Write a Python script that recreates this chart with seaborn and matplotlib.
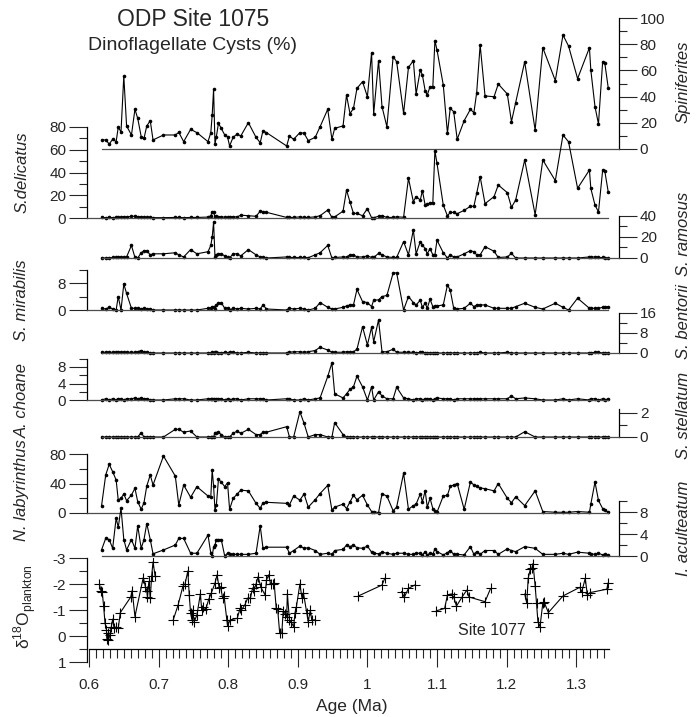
import numpy as np
import pandas as pd
import seaborn as sns
import matplotlib
matplotlib.use('Agg')
from matplotlib import pyplot as plt
from matplotlib.ticker import FixedLocator

# sample ages (Ma), ODP Site 1075
ages = [0.618, 0.624, 0.629, 0.634, 0.639, 0.642, 0.646, 0.650, 0.654, 0.661,
        0.666, 0.670, 0.675, 0.679, 0.683, 0.688, 0.692, 0.707, 0.724, 0.729,
        0.736, 0.746, 0.755, 0.771, 0.775, 0.777, 0.779, 0.781, 0.783, 0.786,
        0.790, 0.795, 0.799, 0.802, 0.807, 0.813, 0.818, 0.829, 0.840, 0.846,
        0.850, 0.855, 0.884, 0.888, 0.894, 0.903, 0.909, 0.915, 0.925, 0.932,
        0.943, 0.949, 0.953, 0.965, 0.970, 0.975, 0.980, 0.985, 0.993, 1.000,
        1.006, 1.009, 1.016, 1.021, 1.028, 1.037, 1.042, 1.052, 1.059, 1.066,
        1.070, 1.076, 1.079, 1.083, 1.086, 1.090, 1.094, 1.097, 1.100, 1.109,
        1.115, 1.119, 1.124, 1.129, 1.139, 1.148, 1.153, 1.157, 1.162, 1.169,
        1.182, 1.188, 1.201, 1.207, 1.213, 1.226, 1.241, 1.252, 1.270, 1.281,
        1.289, 1.302, 1.319, 1.321, 1.327, 1.332, 1.338, 1.341, 1.346]

spiniferites = [6.9, 6.9, 3.8, 7.4, 5.6, 16.5, 13.2, 55.7, 17.6, 10.7,
                30.3, 23.4, 9.4, 8.1, 17.6, 21.6, 6.9, 10.7, 10.7, 12.7,
                5.6, 15.0, 12.5, 5.6, 12.5, 26.0, 45.5, 3.8, 9.4, 19.6,
                15.8, 10.7, 9.4, 2.3, 8.9, 11.5, 9.9, 20.1, 8.9, 4.8,
                14.0, 12.5, 2.3, 9.9, 7.4, 12.5, 12.0, 6.4, 8.9, 17.0,
                30.3, 7.4, 15.8, 17.6, 41.2, 27.0, 31.0, 46.3, 51.4, 39.9,
                73.5, 26.7, 67.4, 32.3, 17.0, 70.5, 66.6, 27.2, 62.3, 67.4,
                42.0, 60.3, 56.5, 44.5, 41.2, 47.6, 47.6, 82.7, 75.6, 48.9,
                12.0, 31.0, 28.5, 7.4, 21.6, 30.3, 27.7, 43.0, 79.4, 40.5,
                39.9, 49.6, 42.0, 20.9, 35.4, 66.6, 14.5, 77.3, 52.2, 87.0,
                78.6, 53.7, 77.3, 60.3, 32.3, 19.1, 66.6, 65.9, 46.8]

delicatus = [0.5, 0.3, 0.5, 0.3, 0.5, 0.8, 0.5, 1.2, 0.8, 1.5,
             1.5, 1.2, 1.0, 0.8, 0.5, 0.5, 0.3, 0.3, 0.5, 0.5,
             0.3, 0.5, 0.5, 0.8, 2.0, 5.5, 5.0, 1.0, 1.5, 1.2,
             1.0, 0.8, 0.5, 0.5, 1.0, 1.0, 2.5, 2.0, 1.5, 6.0,
             5.5, 5.0, 0.5, 0.5, 0.5, 1.0, 0.5, 0.5, 1.0, 2.0,
             7.0, 0.5, 1.0, 6.0, 24.6, 14.0, 4.0, 4.0, 2.0, 8.2,
             0.3, 0.3, 1.5, 2.0, 0.5, 0.5, 1.0, 0.7, 34.9, 14.4,
             18.8, 15.8, 24.0, 11.4, 12.0, 13.5, 13.5, 59.2, 48.0, 11.4,
             1.9, 4.9, 4.9, 3.8, 6.7, 10.3, 10.3, 21.7, 36.3, 12.6,
             18.8, 29.0, 22.3, 9.4, 15.8, 51.0, 2.9, 51.0, 32.8, 73.0,
             67.0, 26.1, 42.2, 26.0, 11.4, 5.3, 42.0, 41.5, 23.0]

ramosus = [0, 0, 0, 0.5, 0.5, 1, 1, 0.5, 1, 12,
           0.5, 0, 5, 7, 7, 3, 4, 4, 5, 3,
           1, 8, 4, 6, 12, 20, 34, 1, 3, 4,
           4, 2, 0.5, 0, 4, 4, 2, 8, 3, 1,
           0.5, 0, 1, 0.5, 0.5, 0.5, 0.5, 0.3, 3, 5,
           12, 0, 0.5, 1, 1, 3, 3, 1, 1, 2,
           0.5, 0.5, 4.4, 3, 1, 0.5, 0.5, 15.6, 3, 26.7,
           4, 15.6, 12.4, 8.9, 4, 9, 3, 3, 17, 5,
           0, 3, 1, 1, 4, 7, 6, 3, 3, 10.8,
           6.4, 0.5, 1, 4.4, 0, 0, 0, 0, 0, 0,
           0, 0, 1, 1, 1, 0.5, 0.5, 0, 0]

mirabilis = [0.5, 0.3, 0.8, 0.3, 0, 4, 0, 7.7, 4.9, 0.5,
             0.5, 0.5, 0.3, 0.5, 0.3, 0.3, 0, 0, 0, 0,
             0, 0, 0, 0.5, 0.5, 1, 1, 0.3, 1.5, 2,
             2.2, 0.5, 0.5, 0, 0.5, 0.3, 0.5, 0.3, 0.5, 0.3,
             1.5, 0.3, 0, 0.5, 0.3, 0.5, 0.3, 0, 0.5, 2.2,
             0.8, 0.3, 0.3, 0.8, 1.2, 1.5, 1.5, 6.1, 2.5, 2.2,
             1, 2.9, 3, 4, 4.3, 11, 11, 0, 4, 2.2,
             1.5, 2.9, 0.8, 2, 0.5, 3.2, 1, 1.2, 1.2, 1.5,
             7.4, 5.9, 0.5, 0.3, 0.5, 2, 1, 1.5, 1.5, 1.5,
             0.5, 0.5, 0.5, 0.5, 1, 2, 0.8, 0.3, 2, 0.8,
             0, 3.5, 0.5, 0.5, 0.5, 0.5, 0.8, 0.8, 1]

bentorii = [0.3, 0.3, 0.3, 0.3, 0.3, 0.3, 0.3, 0.3, 0.3, 0.3,
            0.3, 0.5, 1.0, 0.3, 0.3, 0, 0, 0, 0, 0,
            0, 0, 0, 0, 0, 0.3, 0, 0.3, 0.3, 0,
            0, 0.3, 0, 0.3, 0.3, 0, 0, 0.3, 0, 0,
            0, 0, 0, 0.3, 0.5, 0.5, 0.3, 0.5, 1.0, 2.3,
            1.2, 0.3, 0.3, 0.3, 0.5, 0.3, 0.5, 1.5, 10.5, 3.2,
            10.3, 4.5, 13.2, 0.5, 0.5, 1.5, 0.3, 0.3, 0.3, 0.3,
            0, 0.3, 0.3, 0, 0, 0, 0, 0, 0, 0,
            0, 0, 0, 0, 0, 0, 0, 0, 0.3, 0,
            0, 0, 0.3, 0, 0, 0, 0, 0, 0, 0,
            0, 0, 0, 0, 0.3, 0.3, 0, 0, 0]

choane = [0, 0.3, 0, 0.3, 0, 0.3, 0.3, 0, 0.3, 0.3,
          0.5, 0.3, 0.5, 0.3, 0.3, 0, 0, 0, 0.3, 0.3,
          0.3, 0, 0, 0.3, 0.3, 0.3, 0.3, 0, 0.3, 0.3,
          0.3, 0, 0.3, 0, 0.3, 0.3, 0, 0.3, 0.3, 0.3,
          0.3, 0, 0.3, 0.3, 0, 0, 0.3, 0, 0.3, 0.5,
          5.7, 9.0, 1.5, 0.5, 1.5, 2.6, 3.2, 5.8, 3.2, 0,
          3.2, 0, 2.0, 1.0, 0.3, 0.3, 3.1, 0.5, 0.3, 0,
          0.3, 0.3, 0, 0.3, 0.3, 0.3, 0, 0.3, 0.5, 0.3,
          0.3, 0.3, 0, 0.3, 0.3, 0.3, 0.3, 0.3, 0.3, 0.3,
          0.3, 0.3, 0.3, 1.0, 0.3, 0.5, 0.3, 0, 0, 0.3,
          0, 0.3, 0, 0.3, 0.3, 0, 0.3, 0, 0.3]

stellatum = [0, 0, 0, 0, 0, 0, 0, 0, 0, 0,
             0, 0, 0.36, 0, 0, 0, 0, 0, 0.64, 0.64,
             0.4, 0.5, 0, 0, 0, 0, 0, 0.36, 0.36, 0.4,
             0.2, 0, 0, 0, 0.3, 0.5, 0.3, 0.64, 0.2, 0.2,
             0.4, 0.4, 0.86, 0, 0, 2.1, 1.14, 0, 0.2, 0.2,
             0, 0, 1.2, 0.2, 0, 0, 0, 0, 0, 0,
             0, 0, 0, 0, 0, 0, 0, 0, 0, 0,
             0, 0, 0, 0, 0, 0, 0, 0, 0, 0,
             0, 0, 0, 0, 0, 0, 0, 0, 0, 0,
             0, 0, 0, 0, 0, 0.44, 0, 0, 0, 0,
             0, 0, 0, 0, 0, 0, 0, 0, 0]

labyrinthus = [9.5, 51.5, 66, 56, 44.7, 17.6, 20, 25.8, 16.7, 24.4,
               33.5, 15.4, 5, 14, 36.6, 51.5, 38, 77.3, 50, 10.8,
               38, 21.3, 35.7, 23, 22, 58.3, 36.6, 4, 10.8, 45.7,
               42, 35.7, 41, 5, 19.7, 25.8, 31, 30, 13.1, 6.3,
               14, 14.5, 13.1, 11, 23, 17.5, 25.8, 8, 18, 26.4,
               37.5, 4, 8, 12, 6, 15, 24, 18, 24, 11,
               2, 2, 0.5, 26, 23, 3, 8, 54, 5, 10,
               12, 26, 15, 30, 8, 20, 6, 3, 1, 23,
               24, 36, 38, 40, 5, 42, 38, 36, 34, 33,
               30, 40, 20, 14, 22, 10, 30, 2, 1, 1,
               1, 2, 1, 12, 42, 17, 6, 4, 1]

aculteatum = [1.1, 3.2, 3.0, 1.4, 6.9, 5.2, 8.7, 3.0, 1.1, 3.0,
              1.4, 5.5, 1.4, 3.0, 5.9, 3.0, 0.4, 1.1, 2.0, 3.2,
              3.2, 0.5, 0.5, 3.8, 0.5, 0, 1.6, 2.0, 3.0, 3.0,
              3.0, 0, 0.5, 0.3, 0.3, 0.3, 0.3, 0.3, 0.5, 5.5,
              1.4, 1.6, 1.6, 0.5, 1.0, 1.8, 1.4, 1.5, 1.0, 0.3,
              0.5, 0.3, 1.0, 1.2, 2.0, 1.7, 2.0, 1.5, 1.4, 1.8,
              0.7, 0.5, 0.4, 0.7, 0.5, 0.3, 0.5, 0.5, 0.3, 0.3,
              0.5, 0.5, 0.2, 0.8, 0.2, 0.5, 0.3, 1.3, 0.8, 0.2,
              0.6, 1.0, 0.3, 0.3, 0.2, 1.7, 0.3, 0.8, 0.3, 1.0,
              1.0, 0.3, 1.3, 1.0, 0.8, 1.7, 1.4, 0.3, 0.3, 0.5,
              0.3, 0.7, 0.5, 0.4, 0.3, 0.5, 0.2, 0.3, 0.2]

# planktonic d18O, Site 1077 (NaN = gap in record)
d18o_age = [0.615, 0.617, 0.619, 0.621, 0.623, 0.625, 0.626, 0.627, 0.628, 0.630,
            0.632, 0.634, 0.636, 0.639, 0.642, 0.645, 0.660, 0.662, 0.666, 0.678,
            0.681, 0.683, 0.684, 0.686, 0.688, 0.690, 0.692, 0.695, np.nan,
            0.721, 0.728, 0.735, 0.738, 0.742, 0.744, 0.746, 0.748, 0.749, 0.751,
            0.755, 0.760, 0.762, 0.764, 0.768, 0.772, 0.776, 0.781, 0.784, 0.787,
            0.789, 0.792, 0.794, 0.798, 0.799, 0.803, 0.813, 0.817, 0.819, 0.824,
            0.828, 0.832, 0.835, 0.837, 0.840, 0.843, 0.847, 0.853, 0.855, 0.858,
            0.861, 0.864, 0.866, 0.869, 0.871, 0.874, 0.877, 0.879, 0.882, 0.884,
            0.885, 0.888, 0.890, 0.894, 0.896, 0.898, 0.903, 0.906, 0.908, 0.913,
            0.915, 0.918, 0.920, 0.925, np.nan,
            0.987, 1.021, 1.025, np.nan,
            1.049, 1.053, 1.059, 1.068, np.nan,
            1.099, 1.111, 1.115, 1.121, 1.124, 1.128, 1.136, 1.143, 1.146, 1.169,
            1.177, np.nan,
            1.226, 1.229, 1.231, 1.234, 1.236, 1.238, 1.241, 1.243, 1.245, 1.248,
            1.252, 1.254, 1.260, 1.281, 1.305, 1.308, 1.313, 1.316, 1.320, 1.344,
            1.346]
d18o_val = [-2.0, -1.75, -1.7, -1.15, -0.5, -0.25, 0.1, -0.1, 0.15, -0.05,
            -0.35, -0.65, -0.3, -0.35, -0.3, -0.9, -1.5, -1.75, -0.75, -2.25,
            -1.9, -1.75, -1.5, -2.1, -1.45, -2.3, -2.85, -2.3, np.nan,
            -0.62, -1.19, -1.92, -2.0, -2.5, -1.58, -0.87, -0.62, -1.0, -0.55,
            -0.8, -1.62, -1.0, -1.1, -1.05, -1.41, -1.67, -2.03, -2.35, -1.85,
            -1.9, -1.46, -1.55, -0.62, -0.4, -0.62, -0.68, -1.06, -1.0, -1.2,
            -1.46, -1.46, -1.85, -1.75, -2.0, -2.28, -1.87, -1.58, -2.15, -2.35,
            -2.0, -2.0, -2.05, -1.06, -1.05, -0.1, -0.1, -0.96, -0.85, -0.75,
            -1.62, -0.62, -0.55, -0.36, -0.9, -1.13, -2.0, -1.46, -1.67, -0.87,
            -0.55, -1.0, -0.62, -0.62, np.nan,
            -1.54, -1.96, -2.22, np.nan,
            -1.71, -1.49, -1.83, -1.96, np.nan,
            -0.97, -1.06, -1.58, -1.62, -1.5, -1.15, -1.5, -1.77, -1.5, -1.32,
            -1.83, np.nan,
            -1.62, -1.26, -2.22, -2.56, -2.6, -2.77, -1.93, -1.26, -0.55, -0.36,
            -1.26, -1.3, -0.9, -1.54, -1.87, -1.7, -2.22, -1.58, -1.67, -1.8,
            -2.05]

age_ticks = [0.6, 0.7, 0.8, 0.9, 1.0, 1.1, 1.2, 1.3]
age_labels = ['0.6', '0.7', '0.8', '0.9', '1', '1.1', '1.2', '1.3']

sns.set_style('ticks')
plt.rcParams['font.family'] = ['Liberation Sans', 'DejaVu Sans']
plt.rcParams['mathtext.fontset'] = 'custom'
plt.rcParams['mathtext.rm'] = 'Liberation Sans'
plt.rcParams['axes.unicode_minus'] = False

W, H = 700, 717
fig = plt.figure(figsize=(7, 7.17), dpi=100)
X0, X1 = 87, 619
xlim = (0.6 + (X0 - 89) / 696, 0.6 + (X1 - 89) / 696)


def panel(y_bot, y_top):
    ax = fig.add_axes([X0 / W, 1 - y_bot / H, (X1 - X0) / W, (y_bot - y_top) / H])
    ax.patch.set_visible(False)
    ax.set_xlim(*xlim)
    for s in ax.spines.values():
        s.set_linewidth(0.9)
        s.set_color('k')
    return ax


# label, series, side, px of 0, px of top, top value, long ticks, short ticks, label y
layout = [
    ('Spiniferites', spiniferites, 'right', 149, 18, 100, [0, 20, 40, 60, 80, 100], [10, 30, 50, 70, 90], 82),
    ('S.delicatus', delicatus, 'left', 218, 127, 80, [0, 20, 40, 60, 80], [10, 30, 50, 70], 172),
    ('S. ramosus', ramosus, 'right', 258, 216, 40, [0, 20, 40], [10, 30], 234),
    ('S. mirabilis', mirabilis, 'left', 310, 269.5, 12, [0, 8], [4, 12], 300),
    ('S. bentorii', bentorii, 'right', 353, 313, 16, [0, 8, 16], [4, 12], 322),
    ('A. choane', choane, 'left', 400, 358.75, 10, [0, 4, 8], [2, 6, 10], 400),
    ('S. stellatum', stellatum, 'right', 437, 409.4, 2.3, [0, 2], [1], 415),
    ('N. labyrinthus', labyrinthus, 'left', 513, 454, 80, [0, 40, 80], [20, 60], 490),
    ('I. aculteatum', aculteatum, 'right', 556, 501, 10, [0, 4, 8], [2, 6, 10], 528),
]

for name, vals, side, y0, y1, top, major, minor, ly in layout:
    ax = panel(y0, y1)
    sns.lineplot(x=ages, y=vals, ax=ax, color='k', lw=0.8, marker='o',
                 markersize=2.6, markeredgewidth=0, markerfacecolor='k',
                 estimator=None, legend=False)
    for ln in ax.lines:
        ln.set_clip_on(False)
    ax.set_ylim(0, top)
    ax.set_xlabel('')
    ax.set_ylabel('')
    ax.tick_params(axis='x', bottom=False, labelbottom=False)
    ax.spines['top'].set_visible(False)
    ax.spines['bottom'].set_color('0.3')
    if side == 'left':
        ax.spines['right'].set_visible(False)
        ax.spines['bottom'].set_bounds(xlim[0], ages[-1])
        lx = 22
    else:
        ax.spines['left'].set_visible(False)
        ax.yaxis.tick_right()
        ax.spines['bottom'].set_bounds(ages[0], xlim[1])
        lx = 683
    ax.set_yticks(major)
    ax.set_yticks(minor, minor=True)
    ax.set_yticklabels([str(v) for v in major])
    ax.tick_params(axis='y', which='major', length=13, width=0.8, pad=2, labelsize=11)
    ax.tick_params(axis='y', which='minor', length=6, width=0.8)
    fig.text(lx / W, 1 - ly / H, name, rotation=90, ha='center', va='center',
             style='italic', fontsize=12)

# d18O panel
d18o = pd.DataFrame({'age': d18o_age, 'd18o': d18o_val})
d18o['seg'] = d18o['age'].isna().cumsum()
d18o = d18o.dropna()

ax = panel(662, 558)
sns.lineplot(data=d18o, x='age', y='d18o', units='seg', estimator=None, ax=ax,
             color='k', lw=0.8, marker='+', markersize=7, markeredgewidth=0.8,
             markeredgecolor='k', legend=False)
ax.set_ylim(1, -3)
ax.set_xlabel('')
ax.set_ylabel('')
ax.spines['top'].set_visible(False)
ax.spines['right'].set_visible(False)
ax.spines['bottom'].set_position(('data', 0.5))
ax.spines['bottom'].set_bounds(0.6, 1.347)
ax.set_yticks([-3, -2, -1, 0, 1])
ax.set_yticklabels(['-3', '-2', '-1', '0', '1'])
ax.set_yticks([-2.5, -1.5, -0.5, 0.5], minor=True)
ax.tick_params(axis='y', which='major', length=13, width=0.8, pad=2, labelsize=11)
ax.tick_params(axis='y', which='minor', length=6, width=0.8)
ax.set_xticks(age_ticks)
ax.set_xticklabels(age_labels)
ax.xaxis.set_minor_locator(FixedLocator(np.round(np.arange(0.6, 1.3475, 0.01), 2)))
ax.tick_params(axis='x', which='major', length=13, width=0.8, pad=8, labelsize=11)
ax.tick_params(axis='x', which='minor', length=6.5, width=0.8)
ax.text(1.179, -0.23, 'Site 1077', ha='center', va='center', fontsize=11.5)

fig.text(25 / W, 1 - 607 / H, 'δ$^{18}$O$_{\\mathrm{plankton}}$', rotation=90,
         ha='center', va='center', fontsize=12.5)
fig.text(352 / W, 1 - 707 / H, 'Age (Ma)', ha='center', va='center', fontsize=12.5)
fig.text(193 / W, 1 - 20 / H, 'ODP Site 1075', ha='center', va='center', fontsize=16.5)
fig.text(193 / W, 1 - 45 / H, 'Dinoflagellate Cysts (%)', ha='center', va='center', fontsize=14)

fig.savefig('out.png', dpi=100)
